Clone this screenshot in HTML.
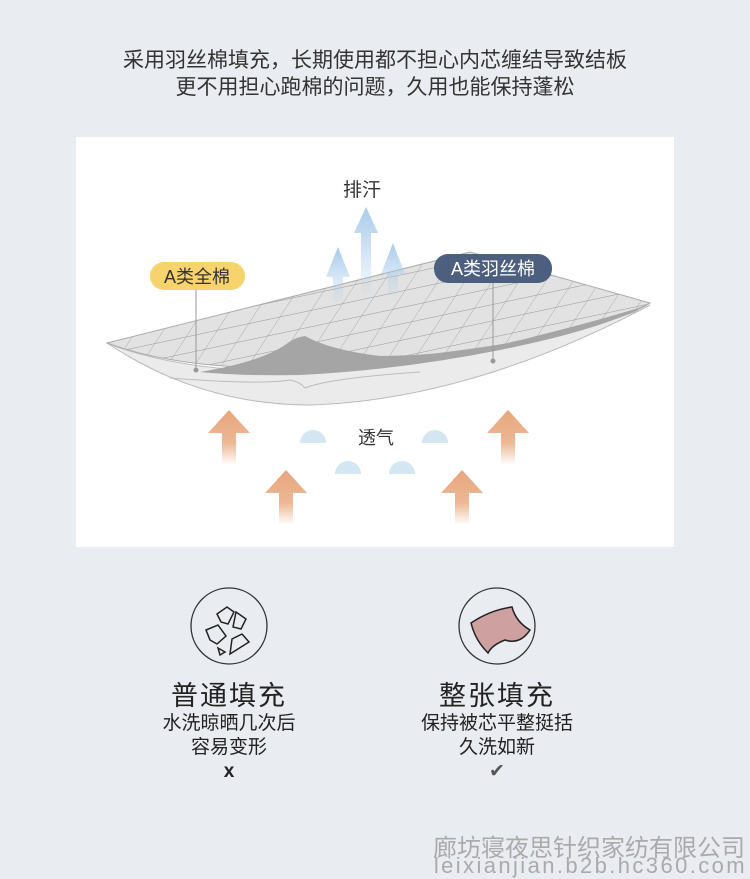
<!DOCTYPE html>
<html><head><meta charset="utf-8"><style>
body{margin:0;width:750px;height:877px;background:#e9ecf1;font-family:"Liberation Sans","Noto Sans CJK SC",sans-serif;position:relative;overflow:hidden;color:#333}
.t{position:absolute;left:0;width:750px;text-align:center;font-size:21px;color:#333}
</style></head><body>
<div class="t" style="top:47px;line-height:27px">采用羽丝棉填充，长期使用都不担心内芯缠结导致结板<br>更不用担心跑棉的问题，久用也能保持蓬松</div>
<svg width="750" height="877" style="position:absolute;left:0;top:0">
<defs>
<linearGradient id="bl" x1="0" y1="0" x2="0" y2="1"><stop offset="0" stop-color="#a9cbea"/><stop offset="1" stop-color="#a9cbea" stop-opacity="0"/></linearGradient>
<linearGradient id="or" x1="0" y1="0" x2="0" y2="1"><stop offset="0" stop-color="#e8a57c"/><stop offset="0.6" stop-color="#ecb895"/><stop offset="1" stop-color="#ecb895" stop-opacity="0"/></linearGradient>
<pattern id="grid" width="32" height="16" patternUnits="userSpaceOnUse" patternTransform="rotate(-12) skewX(-45)"><rect width="32" height="16" fill="#e2e2e2"/><path d="M0 0H32M0 0V16" stroke="#9a9a9a" stroke-width="1"/></pattern>
</defs>
<rect x="76" y="137" width="598" height="410" fill="#fff"/>
<text x="362" y="196" font-size="19" text-anchor="middle" fill="#333">排汗</text>
<path d="M107 343 Q200 405 310 405 Q470 400 650 305 L640 310 Q500 360 300 372 Q180 372 107 343Z" fill="#ebebeb" stroke="#bbb"/>
<path d="M170 378 Q260 385 290 380 Q300 382 305 388 Q330 378 420 372" fill="none" stroke="#bbb"/>
<path d="M107 343 L470 252 L650 303 Q600 330 500 345 Q400 360 300 368 Q180 370 107 343Z" fill="url(#grid)" stroke="#aaa"/>
<path d="M200 372 Q260 362 285 345 Q295 337 305 336 Q330 350 380 356 Q470 355 540 335 Q600 320 648 305 Q600 330 500 350 Q400 370 300 375 Q240 376 200 372Z" fill="#a5a5a5"/>
<path d="M366 207 L378 233 L371 233 L371 300 L361 300 L361 233 L354 233Z" fill="url(#bl)"/>
<path d="M338 247 L350 277 L343 277 L343 305 L333 305 L333 277 L326 277Z" fill="url(#bl)"/>
<path d="M393 243 L405 274 L398 274 L398 300 L388 300 L388 274 L381 274Z" fill="url(#bl)"/>
<rect x="150" y="262" width="95" height="28" rx="14" fill="#f6d36d"/>
<text x="197" y="283" font-size="18" text-anchor="middle" fill="#333">A类全棉</text>
<line x1="196" y1="290" x2="196" y2="370" stroke="#999"/><circle cx="196" cy="370" r="2.5" fill="#999"/>
<rect x="434" y="254" width="118" height="29" rx="14" fill="#4d5f7e"/>
<text x="493" y="275" font-size="18" text-anchor="middle" fill="#fff">A类羽丝棉</text>
<line x1="493" y1="283" x2="493" y2="361" stroke="#999"/><circle cx="493" cy="361" r="2.5" fill="#999"/>
<g fill="url(#or)">
<path d="M229 410 L250 433 L236 433 L236 465 L222 465 L222 433 L208 433Z"/>
<path d="M508 410 L529 433 L515 433 L515 465 L501 465 L501 433 L487 433Z"/>
<path d="M286 470 L307 493 L293 493 L293 525 L279 525 L279 493 L265 493Z"/>
<path d="M462 470 L483 493 L469 493 L469 525 L455 525 L455 493 L441 493Z"/>
</g>
<g fill="#d3e6f2">
<path d="M300 443 A13 13 0 0 1 326 443Z"/><path d="M422 443 A13 13 0 0 1 448 443Z"/>
<path d="M335 474 A13 13 0 0 1 361 474Z"/><path d="M389 474 A13 13 0 0 1 415 474Z"/>
</g>
<text x="376" y="444" font-size="18" text-anchor="middle" fill="#333">透气</text>
<circle cx="229" cy="626" r="38" fill="none" stroke="#333" stroke-width="1.3"/>
<g fill="none" stroke="#222" stroke-width="1.5">
<path d="M217 614 L227 607 L234 612 L228 624 L221 622Z"/><path d="M236 612 L246 619 L241 629 L233 627Z"/>
<path d="M206 630 L218 625 L226 636 L217 644 L210 640Z"/><path d="M232 639 L242 634 L249 642 L230 654Z"/>
<path d="M218 648 L225 652 L220 655Z"/>
</g>
<circle cx="497" cy="626" r="38" fill="none" stroke="#333" stroke-width="1.3"/>
<path d="M471 623 Q490 610 512 607 Q516 622 530 630 Q520 645 505 640 Q492 645 488 653 Q475 640 471 623Z" fill="#cfa0a0" stroke="#222" stroke-width="1.5"/>
</svg>
<div style="position:absolute;left:129px;width:200px;top:674px;text-align:center;font-size:27px;color:#222;letter-spacing:2px">普通填充</div>
<div style="position:absolute;left:119px;width:220px;top:712px;text-align:center;font-size:19px;line-height:24px;color:#222">水洗晾晒几次后<br>容易变形<br><b style="font-size:19px">x</b></div>
<div style="position:absolute;left:397px;width:200px;top:674px;text-align:center;font-size:27px;color:#222;letter-spacing:2px">整张填充</div>
<div style="position:absolute;left:387px;width:220px;top:712px;text-align:center;font-size:19px;line-height:24px;color:#222">保持被芯平整挺括<br>久洗如新<br><span style="color:#555;font-size:19px">✔</span></div>
<div style="position:absolute;right:5px;top:828px;font-size:24px;color:#aaa">廊坊寝夜思针织家纺有限公司</div>
<div style="position:absolute;right:3px;top:853px;font-size:22px;letter-spacing:2.4px;color:#aaa">leixianjian.b2b.hc360.com</div>
</body></html>
